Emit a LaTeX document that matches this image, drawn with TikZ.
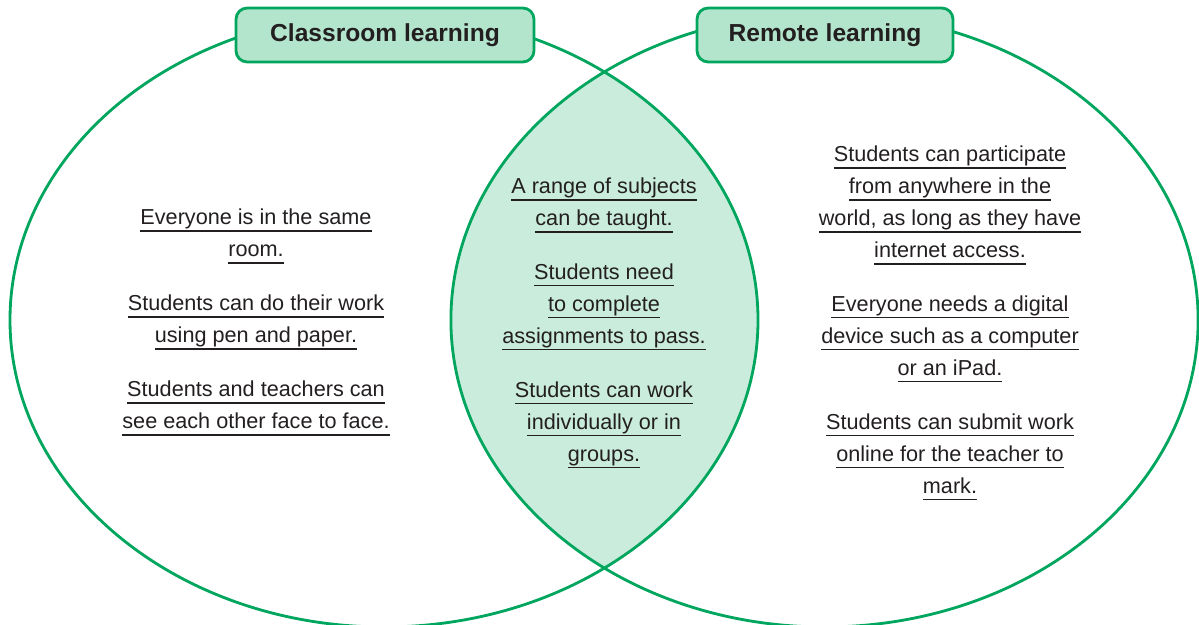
\documentclass[tikz,border=0pt]{standalone}
\usepackage{fontspec}
\setmainfont{Liberation Sans}
\usetikzlibrary{positioning}
\definecolor{Leaf}{HTML}{00A65E}
\definecolor{Mint}{HTML}{B3E5CD}
\definecolor{PaleMint}{HTML}{CAECDC}
\definecolor{Ink}{HTML}{231F20}
\newsavebox{\ulbox}
\newcommand{\lineul}[1]{\sbox{\ulbox}{#1}\usebox{\ulbox}\llap{\rule[-5.2pt]{\wd\ulbox}{1.25pt}}}

\begin{document}
\begin{tikzpicture}
    \useasboundingbox (0,0) rectangle (29.975,15.625);

    % Shared part of the two sets
    \begin{scope}
        \clip (9.6,7.625) ellipse [x radius=9.35cm, y radius=7.675cm];
        \fill[PaleMint] (20.6125,7.625) ellipse [x radius=9.34cm, y radius=7.675cm];
    \end{scope}

    % Two sets
    \draw[Leaf, line width=2pt] (9.6,7.625) ellipse [x radius=9.35cm, y radius=7.675cm];
    \draw[Leaf, line width=2pt] (20.6125,7.625) ellipse [x radius=9.34cm, y radius=7.675cm];

    % Set titles
    \node[rectangle, rounded corners=8pt, draw=Leaf, line width=2pt, fill=Mint,
          text=Ink, minimum width=7.45cm, minimum height=1.35cm,
          font=\fontsize{17.5}{20}\selectfont\bfseries] (classroom) at (9.625,14.75)
          {Classroom learning};

    \node[rectangle, rounded corners=8pt, draw=Leaf, line width=2pt, fill=Mint,
          text=Ink, minimum width=6.4cm, minimum height=1.35cm,
          font=\fontsize{17.5}{20}\selectfont\bfseries] (remote) at (20.625,14.75)
          {Remote learning};

    % Classroom only
    \node[text=Ink, align=center, font=\fontsize{15.4}{22.76}\selectfont] (inclass) at (6.4,7.56) {
        \lineul{Everyone is in the same}\\
        \lineul{room.}\\[15.6pt]
        \lineul{Students can do their work}\\
        \lineul{using pen and paper.}\\[15.6pt]
        \lineul{Students and teachers can}\\
        \lineul{see each other face to face.}
    };

    % Both
    \node[text=Ink, align=center, font=\fontsize{15.4}{22.76}\selectfont] (both) at (15.1,7.55) {
        \lineul{A range of subjects}\\
        \lineul{can be taught.}\\[15.6pt]
        \lineul{Students need}\\
        \lineul{to complete}\\
        \lineul{assignments to pass.}\\[15.6pt]
        \lineul{Students can work}\\
        \lineul{individually or in}\\
        \lineul{groups.}
    };

    % Remote only
    \node[text=Ink, align=center, font=\fontsize{15.4}{22.76}\selectfont] (online) at (23.75,7.55) {
        \lineul{Students can participate}\\
        \lineul{from anywhere in the}\\
        \lineul{world, as long as they have}\\
        \lineul{internet access.}\\[15.6pt]
        \lineul{Everyone needs a digital}\\
        \lineul{device such as a computer}\\
        \lineul{or an iPad.}\\[15.6pt]
        \lineul{Students can submit work}\\
        \lineul{online for the teacher to}\\
        \lineul{mark.}
    };
\end{tikzpicture}
\end{document}
